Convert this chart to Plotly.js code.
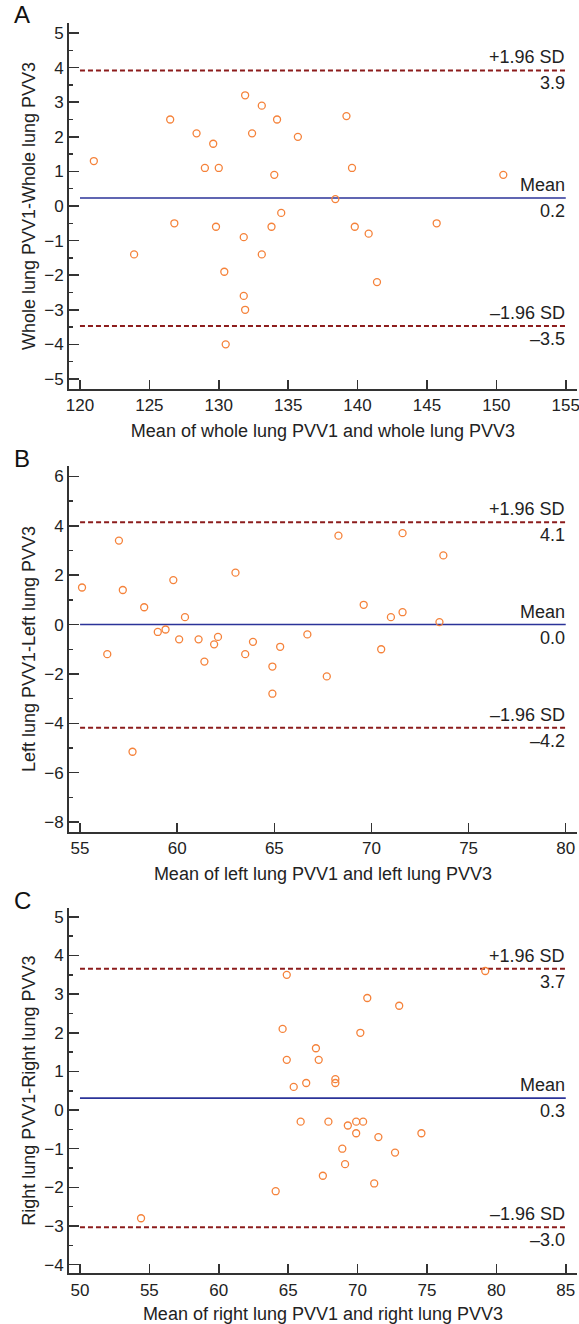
<!DOCTYPE html>
<html>
<head>
<meta charset="utf-8">
<script src="https://cdn.plot.ly/plotly-3.0.1.min.js"></script>
<style>html,body{margin:0;padding:0;background:#fff;}#chart{width:579px;height:1324px;}</style>
</head>
<body>
<div id="chart"></div>
<script>
// ---------- Panel A: whole lung ----------
const meanA = [121.0,123.9,126.5,126.8,128.4,129.0,129.6,129.8,130.0,130.4,130.5,131.8,131.8,131.9,131.9,132.4,133.1,133.1,133.8,134.0,134.2,134.5,135.7,138.4,139.2,139.6,139.8,140.8,141.4,145.7,150.5];
const diffA = [1.3,-1.4,2.5,-0.5,2.1,1.1,1.8,-0.6,1.1,-1.9,-4.0,-0.9,-2.6,3.2,-3.0,2.1,2.9,-1.4,-0.6,0.9,2.5,-0.2,2.0,0.2,2.6,1.1,-0.6,-0.8,-2.2,-0.5,0.9];
const limitsA = [3.92, 0.23, -3.47];       // +1.96 SD, mean, -1.96 SD
const xTickSpanA = [120, 155];

// ---------- Panel B: left lung ----------
const meanB = [55.1,56.4,57.0,57.2,57.7,58.3,59.0,59.4,59.8,60.1,60.4,61.1,61.4,61.9,62.1,63.0,63.5,63.9,64.9,64.9,65.3,66.7,67.7,68.3,69.6,70.5,71.0,71.6,71.6,73.5,73.7];
const diffB = [1.5,-1.2,3.4,1.4,-5.15,0.7,-0.3,-0.2,1.8,-0.6,0.3,-0.6,-1.5,-0.8,-0.5,2.1,-1.2,-0.7,-1.7,-2.8,-0.9,-0.4,-2.1,3.6,0.8,-1.0,0.3,3.7,0.5,0.1,2.8];
const limitsB = [4.14, 0.0, -4.18];
const xTickSpanB = [55, 80];

// ---------- Panel C: right lung ----------
const meanC = [54.4,64.1,64.6,64.9,64.9,65.4,65.9,66.3,67.0,67.2,67.5,67.9,68.4,68.4,68.9,69.1,69.3,69.9,69.9,70.2,70.4,70.7,71.2,71.5,72.7,73.0,74.6,79.2];
const diffC = [-2.8,-2.1,2.1,3.5,1.3,0.6,-0.3,0.7,1.6,1.3,-1.7,-0.3,0.8,0.7,-1.0,-1.4,-0.4,-0.3,-0.6,2.0,-0.3,2.9,-1.9,-0.7,-1.1,2.7,-0.6,3.6];
const limitsC = [3.66, 0.31, -3.03];
const xTickSpanC = [50, 85];

const panelLetters = ['A', 'B', 'C'];
const xTitles = ['Mean of whole lung PVV1 and whole lung PVV3', 'Mean of left lung PVV1 and left lung PVV3', 'Mean of right lung PVV1 and right lung PVV3'];
const yTitles = ['Whole lung PVV1-Whole lung PVV3', 'Left lung PVV1-Left lung PVV3', 'Right lung PVV1-Right lung PVV3'];
const limitNames = ['+1.96 SD', 'Mean', '\u20131.96 SD'];

// ---------- styling / layout ----------
const FONT = 'Liberation Sans, Arial, Helvetica, sans-serif';
const W = 579, H = 1324;
const xDom = [69 / W, 577 / W];
const panels = [
  {mx: meanA, dy: diffA, lim: limitsA, span: xTickSpanA, xr: [119.21, 155.81], yr: [-5.29, 5.29], ydt: 1, ymin: 0.5, top: 23, bot: 389},
  {mx: meanB, dy: diffB, lim: limitsB, span: xTickSpanB, xr: [54.43, 80.58], yr: [-8.40, 6.42], ydt: 2, ymin: 1, top: 466, bot: 832},
  {mx: meanC, dy: diffC, lim: limitsC, span: xTickSpanC, xr: [49.21, 85.81], yr: [-4.225, 5.23], ydt: 1, ymin: 0.5, top: 908, bot: 1273.3}
];
const lineCols = ['#8c1c1c', '#2b3399', '#8c1c1c'];
const lineDash = ['5px,3px', 'solid', '5px,3px'];
const fmt = v => v.toFixed(1).replace('-', '\u2013');

const data = [];
const layout = {
  width: W, height: H, margin: {l: 0, r: 0, t: 0, b: 0},
  paper_bgcolor: '#fff', plot_bgcolor: '#fff', showlegend: false,
  font: {family: FONT, color: '#222'},
  annotations: []
};

panels.forEach((p, i) => {
  const n = i === 0 ? '' : String(i + 1);
  const xa = 'x' + n, ya = 'y' + n;
  // limit lines
  p.lim.forEach((v, k) => {
    data.push({
      type: 'scatter', mode: 'lines', xaxis: xa, yaxis: ya,
      x: p.span, y: [v, v], hoverinfo: 'skip',
      line: {color: lineCols[k], width: k === 1 ? 1.6 : 2, dash: lineDash[k]}
    });
    layout.annotations.push({
      xref: xa, yref: ya, x: p.span[1], y: v, xanchor: 'right', yanchor: 'bottom',
      text: limitNames[k], showarrow: false, xshift: 1, yshift: 1,
      font: {family: FONT, size: 18, color: '#222'}
    });
    layout.annotations.push({
      xref: xa, yref: ya, x: p.span[1], y: v, xanchor: 'right', yanchor: 'top',
      text: fmt(v), showarrow: false, xshift: 1, yshift: -1,
      font: {family: FONT, size: 18, color: '#222'}
    });
  });
  // points
  data.push({
    type: 'scatter', mode: 'markers', xaxis: xa, yaxis: ya,
    x: p.mx, y: p.dy,
    marker: {symbol: 'circle-open', size: 7, color: '#f5823a', line: {width: 1.3, color: '#f5823a'}}
  });
  const yDom = [1 - p.bot / H, 1 - p.top / H];
  layout['xaxis' + n] = {
    domain: xDom, range: p.xr, anchor: ya,
    showline: true, linecolor: '#333', linewidth: 2,
    ticks: 'inside', ticklen: 9, tickwidth: 1.5, tickcolor: '#333',
    tick0: 0, dtick: 5, showgrid: false, zeroline: false,
    ticklabeloverflow: 'allow',
    tickfont: {family: FONT, size: 17, color: '#222'},
    title: {text: xTitles[i], font: {family: FONT, size: 18, color: '#222'}, standoff: 10}
  };
  layout['yaxis' + n] = {
    domain: yDom, range: p.yr, anchor: xa,
    showline: true, linecolor: '#333', linewidth: 2,
    ticks: 'inside', ticklen: 10, tickwidth: 1.5, tickcolor: '#333',
    tick0: 0, dtick: p.ydt, showgrid: false, zeroline: false,
    ticklabeloverflow: 'allow',
    minor: {ticks: 'inside', ticklen: 4, tickwidth: 1.5, tickcolor: '#333', dtick: p.ymin, tick0: 0, showgrid: false},
    tickfont: {family: FONT, size: 17, color: '#222'},
    title: {text: yTitles[i], font: {family: FONT, size: 18, color: '#222'}, standoff: 4}
  };
  layout.annotations.push({
    xref: 'paper', yref: 'paper', x: 12 / W, y: 1 - (p.top - 8) / H,
    xanchor: 'left', yanchor: 'middle', text: panelLetters[i], showarrow: false,
    font: {family: FONT, size: 24, color: '#111'}
  });
});

Plotly.newPlot('chart', data, layout, {displayModeBar: false, staticPlot: true});
</script>
</body>
</html>
